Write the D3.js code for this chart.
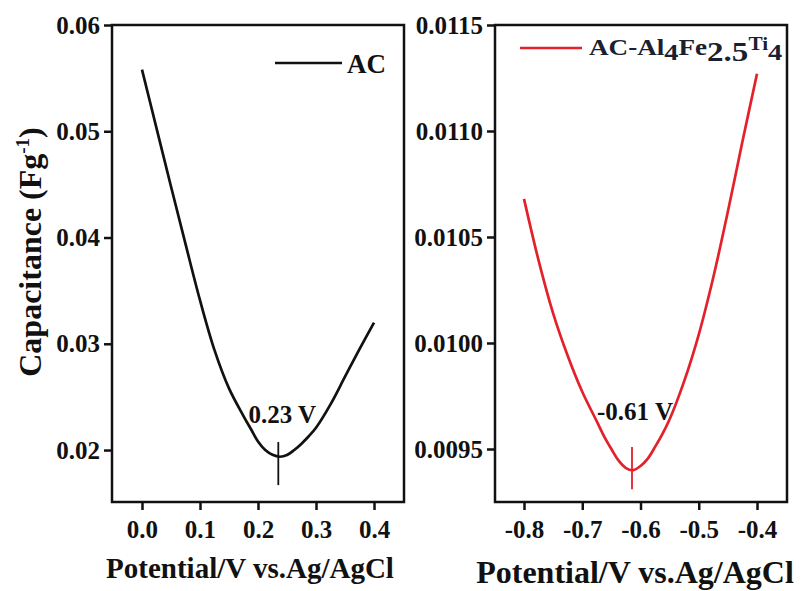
<!DOCTYPE html>
<html>
<head>
<meta charset="utf-8">
<script src="https://cdn.jsdelivr.net/npm/d3@7"></script>
<style>
  body { margin: 0; background: #fff; }
  svg { display: block; font-family: "Liberation Serif", "Times New Roman", serif; font-weight: bold; }
  .frame { fill: none; stroke: #111; stroke-width: 2.5px; }
  .axis path { display: none; }
  .axis line { stroke: #111; stroke-width: 2.5px; }
  .axis text { font-size: 25px; fill: #111; font-family: "Liberation Serif", serif; font-weight: bold; }
</style>
</head>
<body>
<svg width="803" height="591"></svg>
<script>
// AC curve
const acX = [0, 0.025, 0.05, 0.075, 0.1, 0.125, 0.15, 0.175, 0.1875, 0.2, 0.2125, 0.225, 0.2375, 0.25, 0.2625, 0.275, 0.2875, 0.3, 0.325, 0.35, 0.375, 0.4];
const acY = [0.0558, 0.0503, 0.0448, 0.0394, 0.0341, 0.0294, 0.0258, 0.0232, 0.0220, 0.0208, 0.0200, 0.01955, 0.01937, 0.01953, 0.0200, 0.0206, 0.0213, 0.0221, 0.0243, 0.0269, 0.0295, 0.0320];
// AC-Al4Fe2.5Ti4 curve
const feX = [-0.8, -0.775, -0.75, -0.725, -0.7, -0.675, -0.6625, -0.65, -0.6375, -0.625, -0.6125, -0.6, -0.5875, -0.575, -0.5625, -0.55, -0.525, -0.5, -0.475, -0.45, -0.425, -0.4];
const feY = [0.01068, 0.01039, 0.01014, 0.00994, 0.00977, 0.00963, 0.00956, 0.00950, 0.009445, 0.00941, 0.00940, 0.00942, 0.009455, 0.00951, 0.00957, 0.00964, 0.00982, 0.01004, 0.01031, 0.01062, 0.01095, 0.01127];

const acXTicks = [0, 0.1, 0.2, 0.3, 0.4];
const acYTicks = [0.02, 0.03, 0.04, 0.05, 0.06];
const feXTicks = [-0.8, -0.7, -0.6, -0.5, -0.4];
const feYTicks = [0.0095, 0.0100, 0.0105, 0.0110, 0.0115];

// minimum markers: [x, yTop, yBottom]
const acMin = [0.235, 0.02075, 0.0167];
const feMin = [-0.6146, 0.00951, 0.00931];

const svg = d3.select("svg");

function panel(o) {
  const x = d3.scaleLinear().domain(o.xDomain).range([o.left, o.right]);
  const y = d3.scaleLinear().domain(o.yDomain).range([o.bottom, o.top]);
  const g = svg.append("g");

  g.append("g").attr("class", "axis")
    .attr("transform", `translate(0,${o.bottom})`)
    .call(d3.axisBottom(x).tickValues(o.xTicks).tickSize(8).tickPadding(10).tickFormat(d3.format(".1f")))
    .selectAll("text").text(d => d3.format(".1f")(d).replace("−", "-"));

  g.append("g").attr("class", "axis")
    .attr("transform", `translate(${o.left},0)`)
    .call(d3.axisLeft(y).tickValues(o.yTicks).tickSize(8).tickPadding(4).tickFormat(d3.format(o.yFmt)));

  g.append("rect").attr("class", "frame")
    .attr("x", o.left).attr("y", o.top)
    .attr("width", o.right - o.left).attr("height", o.bottom - o.top);

  const line = d3.line().x(d => x(d[0])).y(d => y(d[1])).curve(d3.curveCatmullRom);
  g.append("path")
    .datum(o.xs.map((v, i) => [v, o.ys[i]]))
    .attr("d", line)
    .attr("fill", "none").attr("stroke", o.color).attr("stroke-width", 2.7);

  g.append("line")
    .attr("x1", x(o.mark[0])).attr("x2", x(o.mark[0]))
    .attr("y1", y(o.mark[1])).attr("y2", y(o.mark[2]))
    .attr("stroke", o.color).attr("stroke-width", 1.8);

  g.append("text")
    .attr("x", x(o.mark[0]) + o.labelDx).attr("y", o.labelY)
    .attr("text-anchor", "middle").attr("font-size", 25).attr("fill", "#111")
    .text(o.label);

  g.append("text")
    .attr("x", o.titleX).attr("y", o.titleY)
    .attr("text-anchor", "middle").attr("font-size", o.titleSize).attr("fill", "#111")
    .text("Potential/V vs.Ag/AgCl");

  return { x, y, g };
}

panel({
  left: 112, right: 404, top: 25, bottom: 502,
  xDomain: [-0.0517, 0.4517], yDomain: [0.01511, 0.06],
  xTicks: acXTicks, yTicks: acYTicks, yFmt: ".2f",
  xs: acX, ys: acY, color: "#111", mark: acMin,
  label: "0.23 V", labelDx: 4, labelY: 423,
  titleX: 250, titleY: 578, titleSize: 29
});

panel({
  left: 495, right: 787, top: 25, bottom: 502,
  xDomain: [-0.8498, -0.3485], yDomain: [0.00925, 0.0115],
  xTicks: feXTicks, yTicks: feYTicks, yFmt: ".4f",
  xs: feX, ys: feY, color: "#e3212b", mark: feMin,
  label: "-0.61 V", labelDx: 3, labelY: 420,
  titleX: 635, titleY: 583, titleSize: 32
});

// y axis title
svg.append("text")
  .attr("transform", "translate(41,252) rotate(-90)")
  .attr("text-anchor", "middle").attr("font-size", 32).attr("fill", "#111")
  .html('Capacitance (Fg<tspan dy="-12" font-size="19">-1</tspan><tspan dy="12">)</tspan>');

// legends
svg.append("line").attr("x1", 275).attr("x2", 342).attr("y1", 63).attr("y2", 63)
  .attr("stroke", "#111").attr("stroke-width", 2.6);
svg.append("text").attr("x", 347).attr("y", 73).attr("font-size", 27).attr("fill", "#111").text("AC");

svg.append("line").attr("x1", 520).attr("x2", 582).attr("y1", 48).attr("y2", 48)
  .attr("stroke", "#e3212b").attr("stroke-width", 2.6);
const leg = svg.append("text").attr("transform", "translate(589,55) scale(1.18,1)").attr("fill", "#1a2030");
leg.append("tspan").attr("font-size", 23).text("AC-Al");
leg.append("tspan").attr("font-size", 24).attr("dy", 5).text("4");
leg.append("tspan").attr("font-size", 23).attr("dy", -5).text("Fe");
leg.append("tspan").attr("font-size", 28).attr("dy", 6).text("2.5");
leg.append("tspan").attr("font-size", 18).attr("dy", -11).text("Ti");
leg.append("tspan").attr("font-size", 24).attr("dy", 10).text("4");
</script>
</body>
</html>
